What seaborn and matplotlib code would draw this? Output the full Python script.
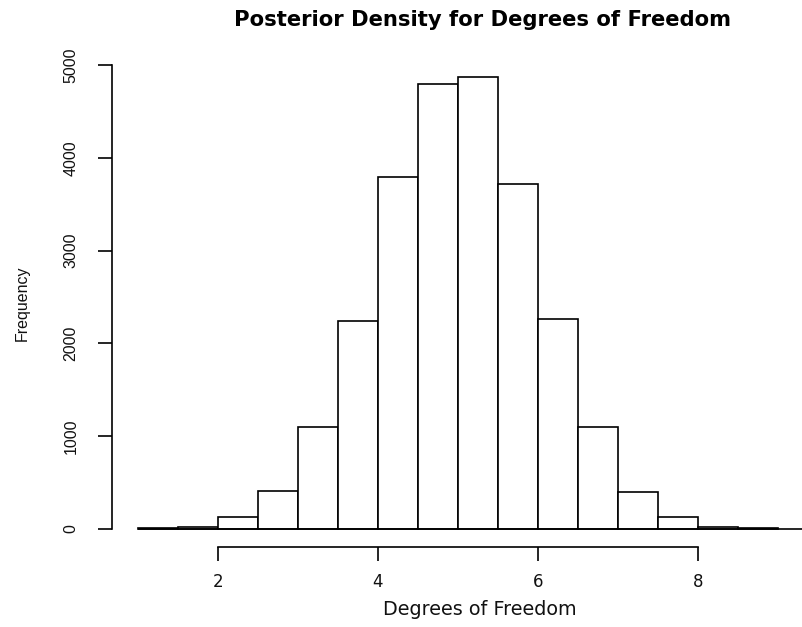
import numpy as np
import matplotlib
matplotlib.use("Agg")
import matplotlib.pyplot as plt
import seaborn as sns

# --- data (bin width 0.5) ---
bin_edges = [1.0, 1.5, 2.0, 2.5, 3.0, 3.5, 4.0, 4.5, 5.0, 5.5, 6.0, 6.5, 7.0, 7.5, 8.0, 8.5, 9.0]
counts = [8, 25, 130, 410, 1100, 2240, 3790, 4800, 4870, 3720, 2260, 1100, 395, 125, 25, 8]
x_ticks = [2, 4, 6, 8]
y_ticks = [0, 1000, 2000, 3000, 4000, 5000]

sns.set_style("white")
plt.rcParams['font.family'] = ['Liberation Sans', 'DejaVu Sans']

edges = np.array(bin_edges)
centers = (edges[:-1] + edges[1:]) / 2

fig = plt.figure(figsize=(8.02, 6.27), dpi=100)
ax = fig.add_axes([0.1397, 0.1276, 0.918, 0.7783])

sns.histplot(x=list(centers), weights=counts, bins=bin_edges, ax=ax,
             color="white", edgecolor="black", linewidth=1.2, alpha=1)
ax.hlines(0, bin_edges[0], 10, color="black", linewidth=1.2)

ax.set_xlim(0.68, 9.88)
ax.set_ylim(-195, 5065)

# R-style axes
for s in ["top", "right"]:
    ax.spines[s].set_visible(False)
ax.spines["bottom"].set_bounds(x_ticks[0], x_ticks[-1])
ax.spines["left"].set_bounds(y_ticks[0], y_ticks[-1])
for s in ["bottom", "left"]:
    ax.spines[s].set_linewidth(1.2)
    ax.spines[s].set_color("black")

ax.set_xticks(x_ticks)
ax.set_xticklabels([str(v) for v in x_ticks], family=["DejaVu Sans"], fontsize=12)
ax.set_yticks(y_ticks)
ax.set_yticklabels([str(v) for v in y_ticks], rotation=90, va="center", fontsize=11.5)
ax.tick_params(axis="both", direction="out", length=10, width=1.2, color="black",
               labelcolor="#111111", bottom=True, left=True)
ax.tick_params(axis="x", pad=9)
ax.tick_params(axis="y", pad=14)

ax.set_xlabel("")
ax.set_ylabel("")
fig.text(0.598, 0.012, "Degrees of Freedom", ha="center", va="bottom", fontsize=13.8,
         family=["DejaVu Sans"], color="#111111")
fig.text(0.028, 0.517, "Frequency", ha="center", va="center", rotation=90, fontsize=11.5, color="#111111")
fig.text(0.601, 0.952, "Posterior Density for Degrees of Freedom", ha="center", va="bottom",
         fontsize=15.2, fontweight="bold", family=["DejaVu Sans"], color="black")

fig.savefig("out.png", dpi=100)
